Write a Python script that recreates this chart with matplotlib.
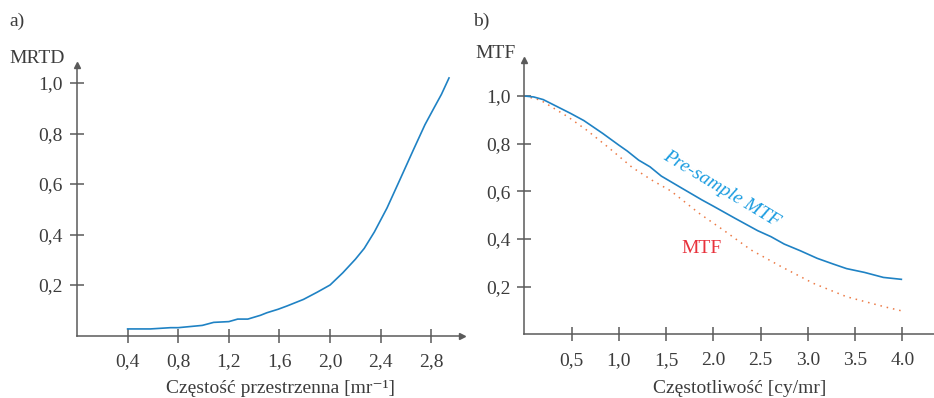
import matplotlib
matplotlib.use("Agg")
import matplotlib.pyplot as plt

# ---------------- data ----------------
mrtd_x = [0.40, 0.58, 0.74, 0.80, 0.99, 1.08, 1.20, 1.27, 1.35, 1.45, 1.50, 1.59, 1.66,
          1.79, 1.90, 2.00, 2.10, 2.20, 2.27, 2.35, 2.45, 2.55, 2.66, 2.75, 2.82,
          2.88, 2.94]
mrtd_y = [0.026, 0.026, 0.031, 0.031, 0.040, 0.052, 0.055, 0.065, 0.065, 0.080, 0.090,
          0.104, 0.117, 0.143, 0.172, 0.200, 0.248, 0.302, 0.345, 0.410, 0.505, 0.615,
          0.737, 0.835, 0.900, 0.955, 1.020]

pre_x = [0.0, 0.10, 0.20, 0.28, 0.49, 0.63, 0.83, 1.00, 1.09, 1.21, 1.33, 1.45, 1.66, 1.88,
         2.00, 2.23, 2.47, 2.61, 2.75, 2.92, 3.10, 3.27, 3.41, 3.60, 3.80, 3.99]
pre_y = [1.000, 0.996, 0.985, 0.969, 0.927, 0.897, 0.843, 0.794, 0.769, 0.731, 0.703,
         0.664, 0.615, 0.564, 0.538, 0.487, 0.435, 0.410, 0.379, 0.351, 0.319, 0.295,
         0.276, 0.260, 0.239, 0.231]

mtf_x = [0.0, 0.17, 0.46, 0.66, 0.90, 1.14, 1.35, 1.55, 1.85, 2.13, 2.40, 2.72, 3.06,
         3.41, 3.81, 3.99]
mtf_y = [1.000, 0.983, 0.913, 0.857, 0.781, 0.701, 0.647, 0.602, 0.508, 0.431, 0.354,
         0.284, 0.214, 0.158, 0.116, 0.099]

a_xticks = [0.4, 0.8, 1.2, 1.6, 2.0, 2.4, 2.8]
a_yticks = [0.2, 0.4, 0.6, 0.8, 1.0]
b_xticks = [0.5, 1.0, 1.5, 2.0, 2.5, 3.0, 3.5, 4.0]
b_yticks = [0.2, 0.4, 0.6, 0.8, 1.0]

# ---------------- style ----------------
W, H = 934, 398
FONT = ['Liberation Serif', 'DejaVu Serif']
plt.rcParams['font.family'] = FONT
TXT = '#3c3c3c'
AX = '#5a5a5a'
FS = 14

fig = plt.figure(figsize=(W / 100, H / 100), dpi=100)


def px_axes(l, r, t, b):
    return fig.add_axes([l / W, 1 - b / H, (r - l) / W, (b - t) / H])


def fmt(v):
    return f"{v:.1f}".replace('.', ',')


def style(ax, xt, yt, xfmt):
    for s in ('top', 'right'):
        ax.spines[s].set_visible(False)
    for s in ('left', 'bottom'):
        ax.spines[s].set_color(AX)
        ax.spines[s].set_linewidth(1.1)
    ax.set_xticks(xt)
    ax.set_xticklabels([xfmt(v) for v in xt])
    ax.set_yticks(yt)
    ax.set_yticklabels([fmt(v) for v in yt])
    ax.tick_params(axis='both', direction='inout', length=10, width=1.1,
                   color=AX, labelcolor=TXT, labelsize=FS)
    ax.tick_params(axis='x', pad=8)
    ax.tick_params(axis='y', pad=5)
    ax.patch.set_alpha(0)


# ---------------- panel a ----------------
axa = px_axes(77, 462, 65, 335.5)
axa.set_xlim(0, (462 - 76.5) / 126.7)
axa.set_ylim(0, (335.5 - 65) / 252.5)
style(axa, a_xticks, a_yticks, fmt)
axa.plot(mrtd_x, mrtd_y, color='#1f82c4', lw=1.2)
axa.plot(1, 0, marker='>', color=AX, ms=5, transform=axa.get_yaxis_transform(), clip_on=False)
axa.plot(0, 1, marker='^', color=AX, ms=5, transform=axa.get_xaxis_transform(), clip_on=False)

# ---------------- panel b ----------------
axb = px_axes(524.3, 934, 60, 334.4)
axb.set_xlim(0, (934 - 524.3) / 94.5)
axb.set_ylim(0, (334.4 - 60) / 238.4)
style(axb, b_xticks, b_yticks, lambda v: fmt(v) if v < 1.75 else f"{v:.1f}")
axb.plot(mtf_x, mtf_y, color='#ec7a45', lw=1.1, linestyle=(0, (1, 3.2)))
axb.plot(pre_x, pre_y, color='#1f82c4', lw=1.2)
axb.plot(0, 1, marker='^', color=AX, ms=5, transform=axb.get_xaxis_transform(), clip_on=False)

axb.text(2.09, 0.61, 'Pre-sample MTF', color='#1a9ce0', fontsize=FS, style='italic',
         rotation=-31, rotation_mode='anchor', ha='center', va='center')
axb.text(1.88, 0.361, 'MTF', color='#e8323c', fontsize=FS, ha='center', va='center')

# ---------------- texts ----------------
def ftext(x, y, s, **kw):
    fig.text(x / W, 1 - y / H, s, color=TXT, fontsize=FS, **kw)

ftext(9, 26, 'a)', ha='left', va='baseline')
ftext(473, 26, 'b)', ha='left', va='baseline')
ftext(9, 63, 'MRTD', ha='left', va='baseline')
ftext(475, 58, 'MTF', ha='left', va='baseline')
ftext(280, 393, 'Częstość przestrzenna [mr⁻¹]', ha='center', va='baseline')
ftext(740, 393, 'Częstotliwość [cy/mr]', ha='center', va='baseline')

fig.savefig('out.png', dpi=100)
